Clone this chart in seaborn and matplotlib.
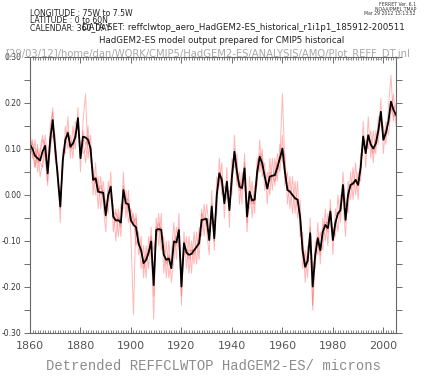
import numpy as np
import pandas as pd
import matplotlib
matplotlib.use("Agg")
import matplotlib.pyplot as plt
from matplotlib.ticker import MultipleLocator, FormatStrFormatter
import seaborn as sns

years = list(range(1860, 2006))

# ensemble mean (black)
mean_vals = [
    0.110, 0.100, 0.085, 0.080, 0.075, 0.095, 0.107, 0.047, 0.120, 0.163,
    0.100, 0.040, -0.025, 0.076, 0.120, 0.135, 0.105, 0.112, 0.127, 0.167,
    0.080, 0.127, 0.125, 0.120, 0.101, 0.033, 0.036, 0.007, 0.006, 0.005,
    -0.044, 0.000, 0.018, -0.047, -0.055, -0.055, -0.060, 0.011, -0.018, -0.020,
    -0.055, -0.065, -0.070, -0.105, -0.120, -0.148, -0.141, -0.125, -0.101, -0.196,
    -0.076, -0.074, -0.076, -0.130, -0.141, -0.138, -0.159, -0.101, -0.103, -0.076,
    -0.199, -0.105, -0.125, -0.130, -0.128, -0.120, -0.113, -0.105, -0.054, -0.053,
    -0.052, -0.098, -0.025, -0.094, 0.000, 0.047, 0.033, -0.018, 0.029, -0.033,
    0.040, 0.094, 0.050, 0.018, 0.015, 0.058, -0.047, 0.007, -0.012, -0.010,
    0.050, 0.083, 0.069, 0.040, 0.014, 0.040, 0.042, 0.043, 0.060, 0.080,
    0.101, 0.050, 0.011, 0.007, 0.000, -0.007, -0.010, -0.047, -0.120, -0.156,
    -0.143, -0.083, -0.199, -0.130, -0.094, -0.120, -0.080, -0.065, -0.072, -0.036,
    -0.098, -0.060, -0.040, -0.033, 0.022, -0.054, 0.000, 0.022, 0.025, 0.033,
    0.022, 0.060, 0.127, 0.091, 0.130, 0.110, 0.101, 0.112, 0.140, 0.181,
    0.120, 0.135, 0.160, 0.203, 0.185, 0.174,
]

# individual members (red)
member1 = [
    0.14, 0.08, 0.12, 0.05, 0.10, 0.13, 0.08, 0.02, 0.15, 0.18,
    0.07, 0.06, -0.06, 0.10, 0.09, 0.17, 0.08, 0.15, 0.10, 0.19,
    0.05, 0.16, 0.22, 0.08, 0.13, 0.00, 0.07, -0.03, 0.04, -0.02,
    -0.08, 0.03, -0.01, -0.02, -0.10, -0.03, -0.09, 0.05, -0.05, 0.01,
    -0.09, -0.26, -0.04, -0.13, -0.09, -0.18, -0.11, -0.16, -0.07, -0.22,
    -0.05, -0.11, -0.04, -0.17, -0.10, -0.18, -0.13, -0.06, -0.14, -0.04,
    -0.24, -0.08, -0.16, -0.09, -0.17, -0.08, -0.15, -0.07, -0.09, -0.02,
    -0.08, -0.13, 0.01, -0.12, 0.04, 0.02, 0.07, -0.05, 0.06, -0.07,
    0.08, 0.06, 0.09, -0.02, 0.05, 0.03, -0.08, 0.04, -0.05, 0.02,
    0.02, 0.12, 0.04, 0.07, -0.02, 0.08, 0.01, 0.08, 0.03, 0.11,
    0.07, 0.09, -0.02, 0.04, -0.04, 0.03, -0.05, -0.01, -0.16, -0.12,
    -0.18, -0.05, -0.24, -0.10, -0.13, -0.08, -0.12, -0.03, -0.11, -0.01,
    -0.13, -0.03, -0.08, 0.00, -0.01, -0.09, 0.03, -0.01, 0.06, 0.00,
    0.05, 0.03, 0.16, 0.06, 0.17, 0.08, 0.14, 0.09, 0.17, 0.15,
    0.15, 0.11, 0.19, 0.26, 0.16, 0.20,
]
member2 = [
    0.08, 0.12, 0.06, 0.11, 0.04, 0.07, 0.13, 0.08, 0.09, 0.15,
    0.13, 0.02, -0.01, 0.05, 0.15, 0.10, 0.13, 0.08, 0.16, 0.14,
    0.11, 0.09, 0.10, 0.15, 0.07, 0.06, 0.00, 0.04, -0.03, 0.03,
    -0.02, -0.04, 0.05, -0.08, -0.03, -0.09, -0.02, -0.03, 0.01, -0.06,
    -0.03, -0.05, -0.11, -0.08, -0.16, -0.11, -0.18, -0.09, -0.14, -0.17,
    -0.10, -0.04, -0.12, -0.09, -0.18, -0.10, -0.19, -0.14, -0.07, -0.11,
    -0.17, -0.13, -0.09, -0.17, -0.10, -0.15, -0.08, -0.14, -0.03, -0.09,
    -0.02, -0.07, -0.06, -0.06, -0.04, 0.08, 0.00, 0.02, -0.01, 0.01,
    0.00, 0.13, 0.02, 0.05, -0.02, 0.09, -0.02, -0.03, 0.03, -0.04,
    0.08, 0.05, 0.10, 0.01, 0.05, 0.00, 0.08, 0.02, 0.09, 0.05,
    0.13, 0.02, 0.05, -0.03, 0.04, -0.04, 0.03, -0.09, -0.08, -0.19,
    -0.11, -0.12, -0.16, -0.16, -0.06, -0.15, -0.05, -0.10, -0.04, -0.07,
    -0.07, -0.09, 0.00, -0.06, 0.05, -0.02, -0.04, 0.05, -0.01, 0.07,
    -0.01, 0.09, 0.10, 0.12, 0.10, 0.14, 0.07, 0.14, 0.11, 0.21,
    0.09, 0.16, 0.13, 0.18, 0.22, 0.15,
]
member3 = [
    0.12, 0.11, 0.10, 0.07, 0.09, 0.12, 0.11, 0.06, 0.13, 0.19,
    0.09, 0.05, -0.03, 0.08, 0.12, 0.14, 0.10, 0.11, 0.12, 0.17,
    0.09, 0.14, 0.11, 0.12, 0.10, 0.04, 0.03, 0.01, 0.02, 0.00,
    -0.05, 0.01, 0.02, -0.05, -0.06, -0.05, -0.07, 0.02, -0.02, -0.03,
    -0.06, -0.04, -0.08, -0.11, -0.12, -0.15, -0.14, -0.13, -0.10, -0.27,
    -0.07, -0.08, -0.07, -0.13, -0.15, -0.13, -0.16, -0.10, -0.11, -0.07,
    -0.22, -0.11, -0.12, -0.14, -0.12, -0.13, -0.11, -0.10, -0.06, -0.05,
    -0.05, -0.10, -0.03, -0.10, 0.01, 0.05, 0.04, -0.02, 0.03, -0.03,
    0.05, 0.10, 0.06, 0.01, 0.02, 0.07, -0.06, 0.01, -0.01, -0.02,
    0.06, 0.09, 0.08, 0.04, 0.02, 0.05, 0.04, 0.05, 0.07, 0.08,
    0.22, 0.06, 0.01, 0.01, 0.00, -0.01, -0.01, -0.05, -0.13, -0.16,
    -0.15, -0.09, -0.25, -0.14, -0.10, -0.13, -0.08, -0.07, -0.08, -0.04,
    -0.10, -0.06, -0.04, -0.03, 0.02, -0.06, 0.00, 0.02, 0.03, 0.03,
    0.02, 0.06, 0.13, 0.09, 0.13, 0.11, 0.10, 0.11, 0.14, 0.18,
    0.12, 0.13, 0.16, 0.20, 0.19, 0.17,
]
member4 = [
    0.10, 0.09, 0.06, 0.10, 0.07, 0.06, 0.10, 0.03, 0.11, 0.13,
    0.11, 0.03, -0.01, 0.07, 0.12, 0.13, 0.11, 0.10, 0.13, 0.16,
    0.08, 0.12, 0.07, 0.13, 0.10, 0.03, 0.04, 0.02, 0.00, 0.01,
    -0.03, 0.00, 0.01, -0.04, -0.04, -0.05, -0.06, 0.00, -0.01, -0.01,
    -0.04, -0.06, -0.05, -0.10, -0.11, -0.16, -0.13, -0.12, -0.09, -0.12,
    -0.09, -0.06, -0.08, -0.13, -0.14, -0.14, -0.16, -0.10, -0.09, -0.09,
    -0.16, -0.10, -0.13, -0.12, -0.12, -0.12, -0.11, -0.10, -0.04, -0.05,
    -0.06, -0.09, -0.02, -0.10, 0.00, 0.04, 0.02, -0.01, 0.03, -0.03,
    0.03, 0.09, 0.03, 0.03, 0.01, 0.04, -0.03, 0.00, -0.02, -0.01,
    0.04, 0.07, 0.06, 0.04, 0.02, 0.03, 0.04, 0.03, 0.05, 0.08,
    0.09, 0.04, 0.01, 0.01, 0.00, -0.01, -0.01, -0.04, -0.11, -0.15,
    -0.13, -0.07, -0.16, -0.13, -0.09, -0.12, -0.07, -0.06, -0.06, -0.03,
    -0.09, -0.06, -0.04, -0.04, 0.02, -0.05, 0.01, 0.02, 0.02, 0.03,
    0.02, 0.06, 0.12, 0.09, 0.12, 0.11, 0.09, 0.11, 0.13, 0.18,
    0.12, 0.14, 0.16, 0.19, 0.17, 0.18,
]

members = {"r1": member1, "r2": member2, "r3": member3, "r4": member4}
df = pd.DataFrame({"year": years, **members})
long_df = df.melt(id_vars="year", var_name="member", value_name="reff")

sns.set_style("ticks")
plt.rcParams["font.family"] = ["DejaVu Sans"]

fig = plt.figure(figsize=(4.24, 3.76), dpi=100)
ax = fig.add_axes([30 / 424, 43 / 376, 366 / 424, 276 / 376])

sns.lineplot(data=long_df, x="year", y="reff", units="member", estimator=None,
             color="#ff3030", alpha=0.35, lw=0.7, ax=ax)
sns.lineplot(x=years, y=mean_vals, color="black", lw=1.3, ax=ax)

ax.set_xlim(1860, 2005)
ax.set_ylim(-0.30, 0.30)
ax.set_xlabel("")
ax.set_ylabel("")

ax.xaxis.set_major_locator(MultipleLocator(20))
ax.xaxis.set_minor_locator(MultipleLocator(1))
ax.yaxis.set_major_locator(MultipleLocator(0.1))
ax.yaxis.set_minor_locator(MultipleLocator(0.05))
ax.yaxis.set_major_formatter(FormatStrFormatter("%.2f"))
ax.tick_params(axis="x", which="both", direction="in", top=True, bottom=True,
               colors="#555555", labelsize=8, pad=6)
ax.tick_params(axis="x", which="major", length=4, width=0.6)
ax.tick_params(axis="x", which="minor", length=2, width=0.5)
ax.tick_params(axis="y", which="both", direction="out", left=True, right=True,
               colors="#555555", labelsize=5.5, pad=2)
ax.tick_params(axis="y", which="major", length=4, width=0.6)
ax.tick_params(axis="y", which="minor", length=4, width=0.6)
plt.setp(ax.get_yticklabels(), color="#333333")
for s in ax.spines.values():
    s.set_color("#666666")
    s.set_linewidth(0.8)
    s.set_visible(True)

# header text
hdr = dict(fontsize=5.6, color="#222222", ha="left", va="baseline")
fig.text(30 / 424, 1 - 16 / 376, "LONGITUDE : 75W to 7.5W", **hdr)
fig.text(30 / 424, 1 - 23 / 376, "LATITUDE : 0 to 60N", **hdr)
fig.text(30 / 424, 1 - 30 / 376, "CALENDAR: 360_DAY", **hdr)
fig.text(82 / 424, 1 - 30 / 376,
         "DATA SET: reffclwtop_aero_HadGEM2-ES_historical_r1i1p1_185912-200511",
         fontsize=6.2, color="#222222", ha="left", va="baseline")
fig.text(222 / 424, 1 - 43 / 376,
         "HadGEM2-ES model output prepared for CMIP5 historical",
         fontsize=6.2, color="#222222", ha="center", va="baseline")
fig.text(5 / 424, 1 - 56 / 376,
         "[29/03/12]/home/dan/WORK/CMIP5/HadGEM2-ES/ANALYSIS/AMO/Plot_REFF_DT.jnl",
         fontsize=7.2, color="#a8a8a8", ha="left", va="baseline")
sml = dict(fontsize=3.3, color="#333333", ha="right", va="baseline")
fig.text(416 / 424, 1 - 6 / 376, "FERRET Ver. 6.1", **sml)
fig.text(416 / 424, 1 - 10.5 / 376, "NOAA/PMEL TMAP", **sml)
fig.text(416 / 424, 1 - 15 / 376, "Mar 29 2012 15:13:52", **sml)

fig.text(213 / 424, 1 - 370 / 376, "Detrended REFFCLWTOP HadGEM2-ES/ microns",
         fontsize=10, color="#8c8c8c", ha="center", va="baseline",
         family="Liberation Mono")

fig.savefig("out.png", dpi=100)
